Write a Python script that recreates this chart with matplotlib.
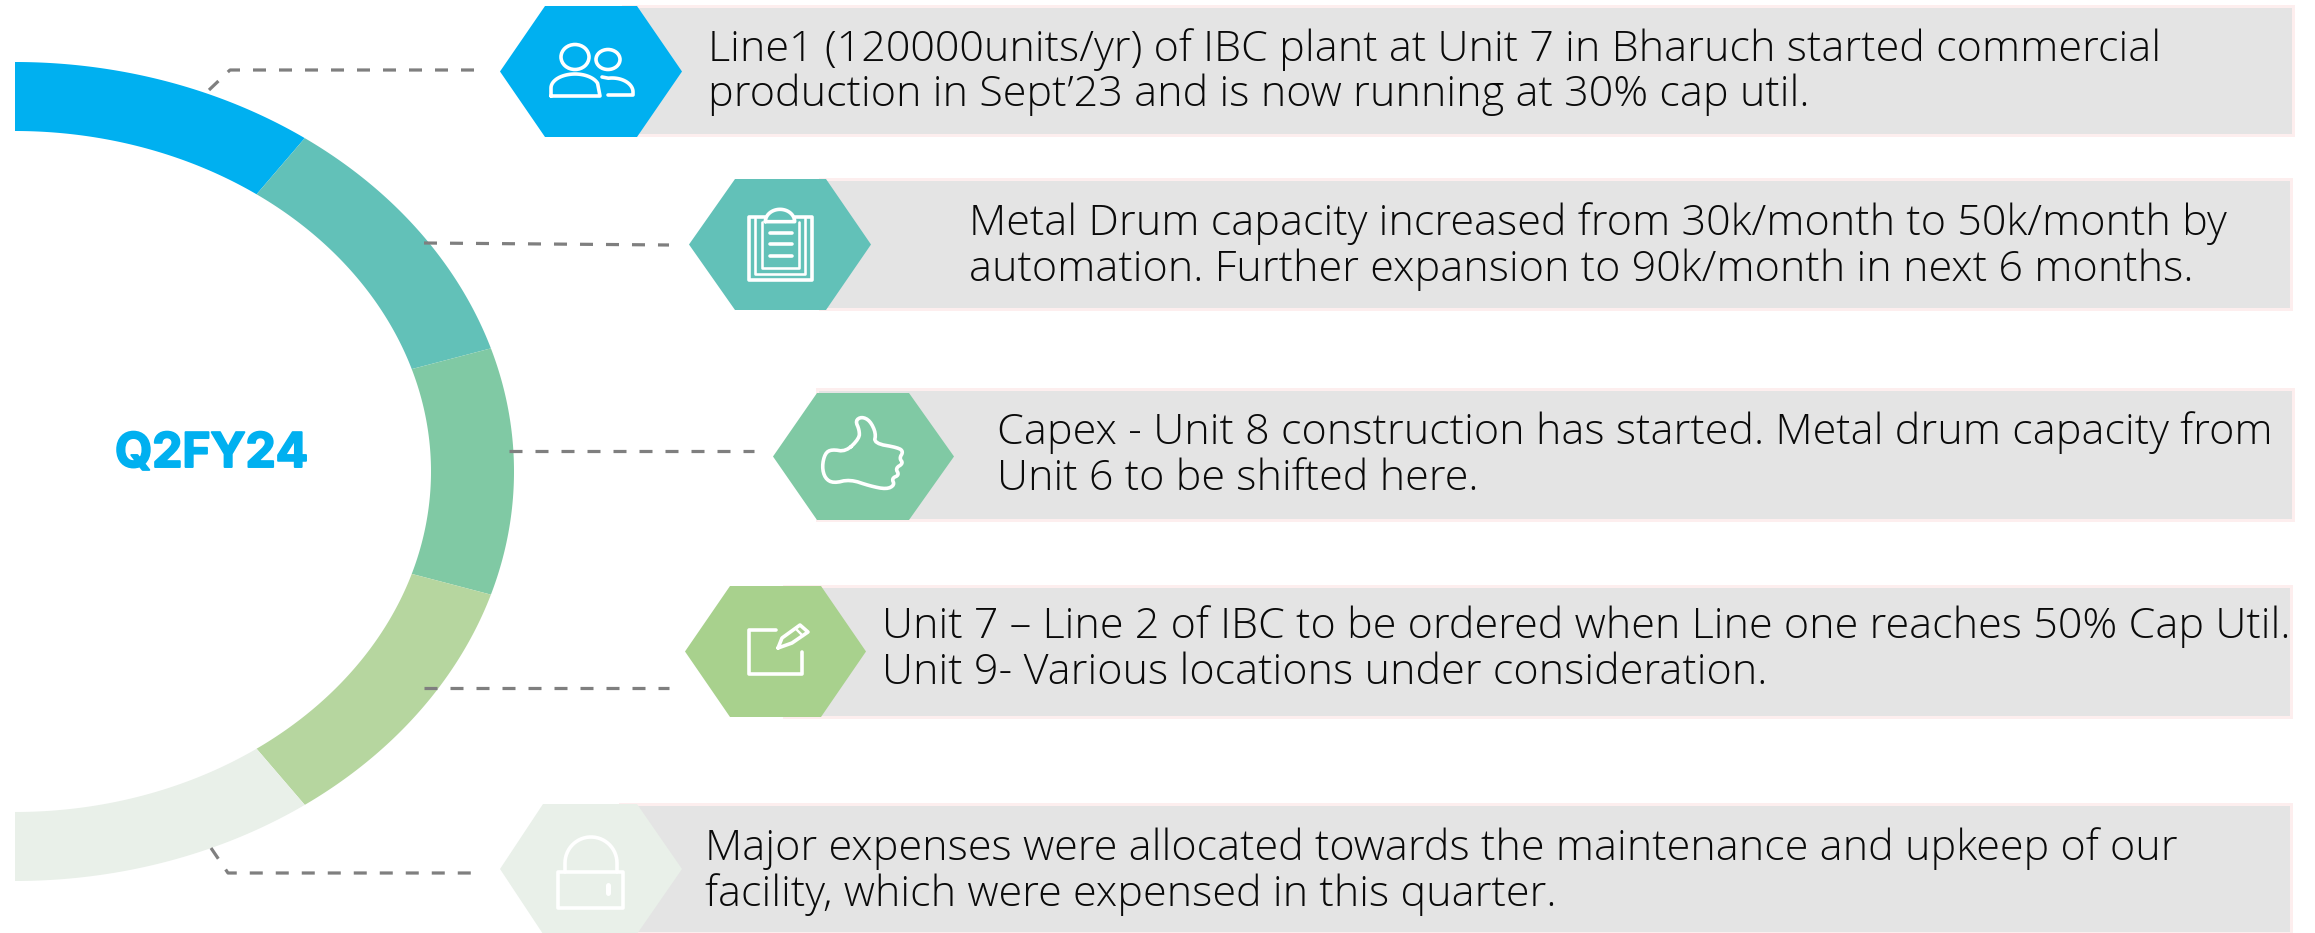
import numpy as np
import matplotlib
matplotlib.use("Agg")
import matplotlib.pyplot as plt
import matplotlib.patheffects as pe
from matplotlib.patches import Polygon, Rectangle, Ellipse

# ---- content
title = "Q2FY24"
row_lines = [
    ["Line1 (120000units/yr) of IBC plant at Unit 7 in Bharuch started commercial",
     "production in Sept\u201923 and is now running at 30% cap util."],
    ["Metal Drum capacity increased from 30k/month to 50k/month by",
     "automation. Further expansion to 90k/month in next 6 months."],
    ["Capex - Unit 8 construction has started. Metal drum capacity from",
     "Unit 6 to be shifted here."],
    ["Unit 7 \u2013 Line 2 of IBC to be ordered when Line one reaches 50% Cap Util.",
     "Unit 9- Various locations under consideration."],
    ["Major expenses were allocated towards the maintenance and upkeep of our",
     "facility, which were expensed in this quarter."],
]
ring_colors = ["#00B0F0", "#62C1B8", "#80C9A4", "#B6D69F", "#E9F0E9"]
hex_colors = ["#00B0F0", "#62C1B8", "#80C9A4", "#A8D18D", "#E9F0E9"]
ring_angles = [90, 54.5, 17.5, -17.5, -54.5, -90]

# ---- layout, in reference pixels
hex_x = [(500, 545, 637, 682), (689, 735, 826, 871), (773, 817, 909, 954),
         (685, 730, 821, 866), (500, 543, 637, 682)]
hex_y = [(6, 137), (179, 310), (393, 520), (586, 717), (804, 934)]
bar_box = [(623, 6, 2293, 135), (820, 179, 2291, 309), (817, 389, 2293, 520),
           (784, 586, 2291, 717), (620, 804, 2291, 933)]
text_x = [708, 969, 997, 882, 705]
text_base = [(61, 106), (235, 281), (444, 490), (638, 684), (860, 906)]
connectors = [
    [(209, 90), (230, 70), (480, 70)],
    [(424, 243), (669, 245)],
    [(509, 451), (754, 451)],
    [(424, 688), (669, 688)],
    [(211, 848), (228, 873), (479, 873)],
]

PX = 72 / 100  # points per pixel at dpi 100
ICON_LW = 3.6 * PX

fig = plt.figure(figsize=(23.15, 9.33), dpi=100)
ax = fig.add_axes([0, 0, 1, 1])
ax.set_xlim(0, 2315)
ax.set_ylim(933, 0)
ax.axis("off")


def line(pts, closed=False, lw=ICON_LW):
    pts = list(pts)
    if closed:
        pts.append(pts[0])
    xs, ys = zip(*pts)
    ax.plot(xs, ys, color="white", lw=lw, solid_capstyle="round",
            solid_joinstyle="round", zorder=6)


def arc(cx, cy, rx, ry, a0, a1, n=30):
    t = np.radians(np.linspace(a0, a1, n))
    return list(zip(cx + rx * np.cos(t), cy - ry * np.sin(t)))


def crop(pts, ox, oy):
    return [(ox + x / 3, oy + y / 3) for x, y in pts]


def smooth(pts, rounds=3):
    # corner cutting, closed outline
    p = np.array(pts, dtype=float)
    for _ in range(rounds):
        q = np.roll(p, -1, axis=0)
        p = np.column_stack([0.75 * p + 0.25 * q, 0.25 * p + 0.75 * q]).reshape(-1, 2)
    return [tuple(v) for v in p]


# ---- ring
CX, CY = 15, 471.5
for i, col in enumerate(ring_colors):
    t = np.radians(np.linspace(ring_angles[i], ring_angles[i + 1], 80))
    outer = np.column_stack([CX + 499 * np.cos(t), CY - 409.5 * np.sin(t)])
    inner = np.column_stack([CX + 416 * np.cos(t), CY - 340.5 * np.sin(t)])
    ax.add_patch(Polygon(np.vstack([outer, inner[::-1]]), closed=True, fc=col, ec="none", zorder=2))

ax.text(115, 467, title, color="#00B0F0", fontsize=34.5, fontweight="bold",
        family="Inter", ha="left", va="baseline",
        path_effects=[pe.withStroke(linewidth=1.4, foreground="#00B0F0")])

# ---- connectors
for pts in connectors:
    xs, ys = zip(*pts)
    ax.plot(xs, ys, color="#7F7F7F", lw=3.2 * PX, zorder=3,
            dashes=(13 / 3.2, 13 / 3.2), dash_capstyle="butt")

# ---- bars, hexagons, text
for i, lines in enumerate(row_lines):
    x0, y0, x1, y1 = bar_box[i]
    ax.add_patch(Rectangle((x0, y0), x1 - x0, y1 - y0, fc="#E4E4E4", ec="#FDEEEE",
                           lw=3 * PX, zorder=3))
    a, b, c, d = hex_x[i]
    top, bot = hex_y[i]
    mid = (top + bot) / 2
    ax.add_patch(Polygon([(a, mid), (b, top), (c, top), (d, mid), (c, bot), (b, bot)],
                         closed=True, fc=hex_colors[i], ec="none", zorder=4))
    for s, base in zip(lines, text_base[i]):
        ax.text(text_x[i], base, s, fontsize=31.05, family="Open Sans", fontweight="light",
                color="#0A0A0A", ha="left", va="baseline", zorder=5)

# ---- icon 1, people
ax.add_patch(Ellipse((575, 57), 28, 25, fc="none", ec="white", lw=ICON_LW, zorder=6))
ax.add_patch(Ellipse((608, 59.5), 24, 20, fc="none", ec="white", lw=ICON_LW, zorder=6))
line([(551, 96)] + arc(575, 88, 24, 14, 180, 20) + [(600, 96)], closed=True)
line([(602, 77)] + arc(612, 92, 21, 14, 100, 0) + [(633, 95), (608, 95)])

# ---- icon 2, clipboard
line(crop([(855, 650), (808, 650), (808, 840), (997, 840), (997, 650), (945, 650)], 480, 0))
line(crop([(825, 655), (825, 822), (975, 822), (975, 655)], 480, 0), lw=2.6 * PX)
line(crop([(845, 665), (845, 805), (957, 805), (957, 665)], 480, 0), lw=2.6 * PX)
line(crop([(856, 665)] + arc(900, 665, 44, 37, 180, 0) + [(944, 665)], 480, 0), closed=True)
for yy in (698, 733, 768):
    line(crop([(870, yy), (935, yy)], 480, 0))

# ---- icon 3, thumb
thumb = [(228, 215), (268, 175), (268, 150), (256, 122), (275, 110), (300, 122), (318, 160),
         (312, 190), (385, 203), (400, 215), (388, 235), (400, 250), (376, 265), (388, 285),
         (365, 295), (374, 315), (350, 328), (300, 318), (240, 298), (190, 310), (165, 295),
         (156, 260), (165, 220), (185, 208)]
line(smooth(crop(thumb, 770, 380), 2), closed=True)

# ---- icon 4, edit
line([(776, 630), (749, 630), (749, 674), (802, 674), (802, 652)])
line([(778, 648), (782, 638), (800, 625), (808, 632), (792, 643)], closed=True)
line([(796, 629), (803, 636)], lw=2.4 * PX)

# ---- icon 5, lock
ax.add_patch(Rectangle((558, 872), 65, 36, fc="none", ec="white", lw=ICON_LW,
                       joinstyle="round", zorder=6))
line([(565, 872)] + arc(591, 863, 26, 26, 180, 0) + [(617, 872)])
line([(608, 885), (608, 893)], lw=5 * PX)

fig.savefig("out.png", dpi=100, facecolor="white")
plt.close(fig)
